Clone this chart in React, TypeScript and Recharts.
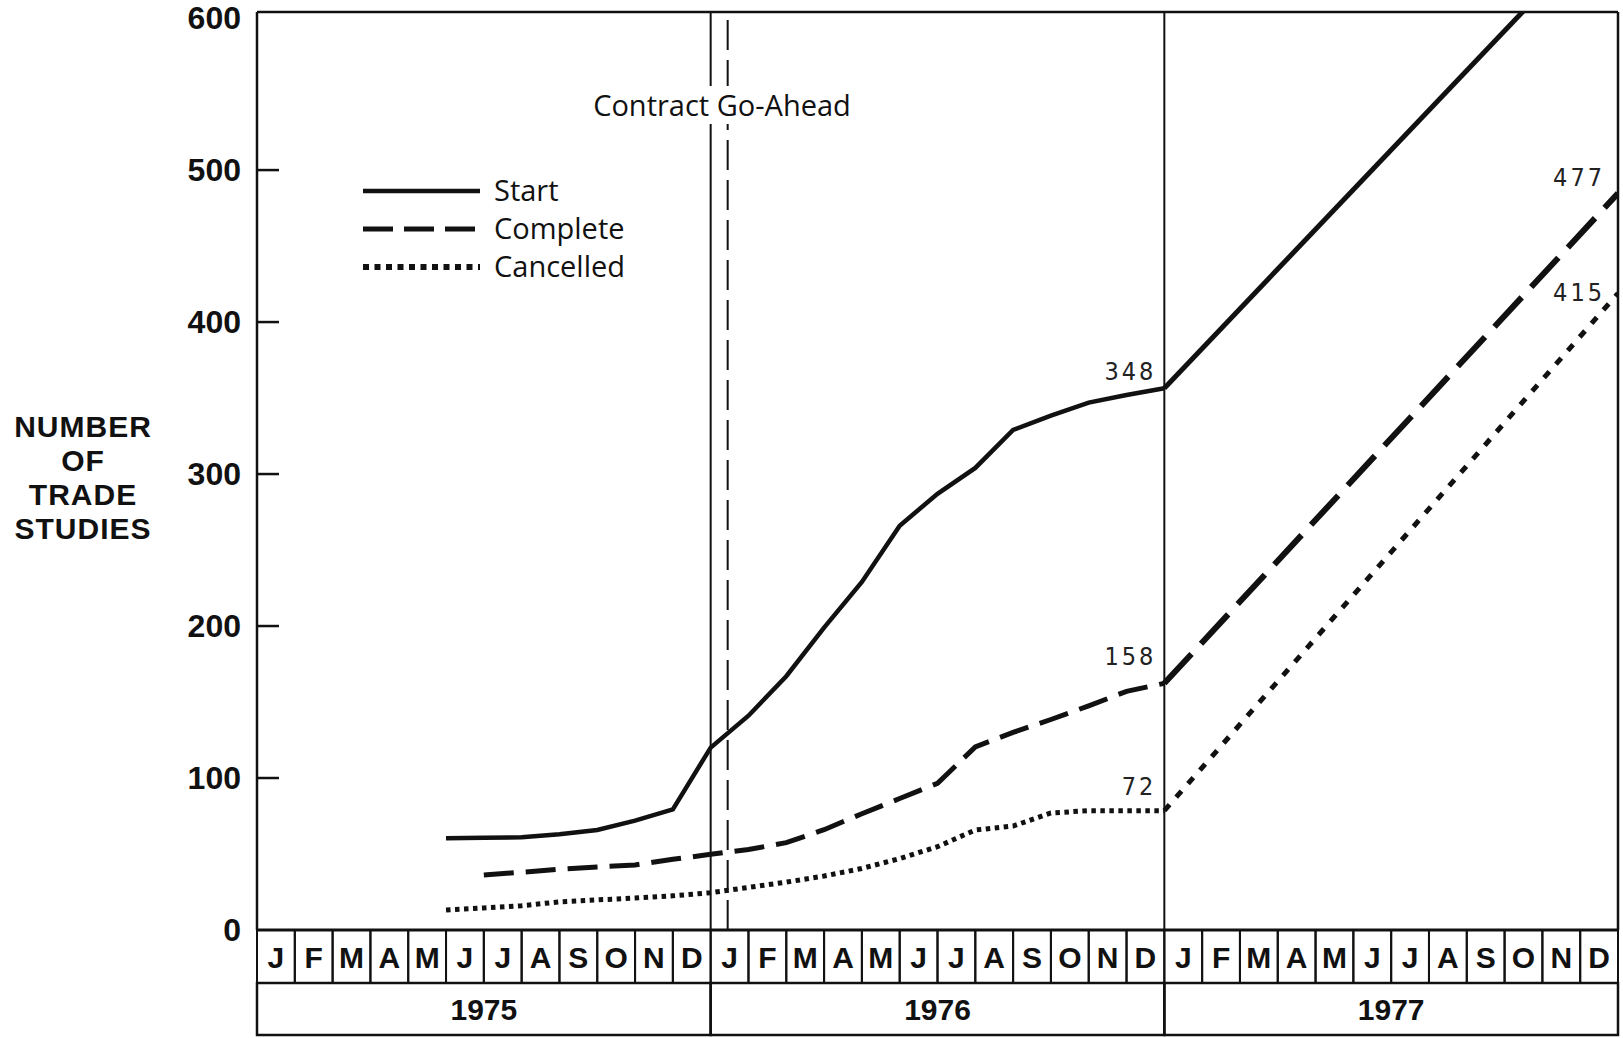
import { LineChart, Line, XAxis, YAxis, ReferenceLine, Legend } from "recharts";

// month index = months since 1 Jan 1975 (end of a month sits on its right cell edge)
const MONTH_LETTERS = ["J", "F", "M", "A", "M", "J", "J", "A", "S", "O", "N", "D"];
const YEARS = ["1975", "1976", "1977"];
const Y_TICKS = [0, 100, 200, 300, 400, 500, 600];
const MONTH_TICKS = Array.from({ length: 36 }, (_, i) => i + 0.5);
const YEAR_TICKS = [6, 18, 30];

const ACTUAL_MONTHS = [5, 6, 7, 8, 9, 10, 11, 12, 13, 14, 15, 16, 17, 18, 19, 20, 21, 22, 23, 24];
const START = [60.3, 60.7, 61, 63, 65.8, 72, 79.4, 120, 141, 167, 199, 229, 266, 287, 304, 329, 338.5, 347, 352, 356.5];
const COMPLETE = [null, 36.2, 38, 40, 41.5, 42.8, 46.5, 49.8, 53, 57.5, 66, 76.5, 86.5, 96.5, 120.5, 130, 138.5, 147.5, 157, 162.3];
const CANCELLED = [13.2, 14.5, 16, 18.5, 19.8, 21, 22.5, 24.5, 28, 31.5, 35.5, 40.5, 47, 54.8, 65.8, 68.4, 77, 78.5, 78.5, 78.5];

// 1977 projection
const PROJ_MONTHS = [24, 36];
const START_PROJ = [356.5, 670];
const COMPLETE_PROJ = [162.3, 484.7];
const CANCELLED_PROJ = [78.5, 418.9];

const GO_AHEAD_MONTH = 12.45;
const YEAR_BREAKS = [12, 24];

const LEGEND_ITEMS = [
  { label: "Start", dash: undefined, width: 4.5 },
  { label: "Complete", dash: "30 11", width: 5 },
  { label: "Cancelled", dash: "6 5.5", width: 6 },
];

const actualRows = ACTUAL_MONTHS.map((m, i) => ({
  m,
  start: START[i],
  complete: COMPLETE[i],
  cancelled: CANCELLED[i],
}));
const projRows = PROJ_MONTHS.map((m, i) => ({
  m,
  start: START_PROJ[i],
  complete: COMPLETE_PROJ[i],
  cancelled: CANCELLED_PROJ[i],
}));

const W = 1623;
const H = 1038;
const PLOT_LEFT = 257;
const PLOT_RIGHT = 1618;
const PLOT_TOP = 12;
const PLOT_BOTTOM = 930;
const MONTH_ROW_H = 53;
const YEAR_ROW_H = 52;
const MONTH_W = (PLOT_RIGHT - PLOT_LEFT) / 36;
const INK = "#111";
const BOLD_FONT = "'Liberation Sans', Arial, sans-serif";
const TEXT_FONT = "'Open Sans', 'DejaVu Sans', sans-serif";
const NUM_FONT = "'Liberation Sans Narrow', 'DejaVu Sans Condensed', sans-serif";

const MonthTick = ({ x, payload }: any) => (
  <g>
    <rect
      x={x - MONTH_W / 2}
      y={PLOT_BOTTOM}
      width={MONTH_W}
      height={MONTH_ROW_H}
      fill="none"
      stroke={INK}
      strokeWidth={2}
    />
    <text
      x={x}
      y={PLOT_BOTTOM + MONTH_ROW_H / 2 + 1}
      textAnchor="middle"
      dominantBaseline="central"
      fontFamily={BOLD_FONT}
      fontWeight="bold"
      fontSize={30}
      fill={INK}
    >
      {MONTH_LETTERS[Math.floor(payload.value) % 12]}
    </text>
  </g>
);

const YearTick = ({ x, payload, index }: any) => {
  const top = PLOT_BOTTOM + MONTH_ROW_H;
  return (
    <g>
      <rect
        x={x - 6 * MONTH_W}
        y={top}
        width={12 * MONTH_W}
        height={YEAR_ROW_H}
        fill="none"
        stroke={INK}
        strokeWidth={2.5}
      />
      <text
        x={x}
        y={top + YEAR_ROW_H / 2}
        textAnchor="middle"
        dominantBaseline="central"
        fontFamily={BOLD_FONT}
        fontWeight="bold"
        fontSize={30}
        fill={INK}
      >
        {YEARS[index ?? YEAR_TICKS.indexOf(payload.value)]}
      </text>
    </g>
  );
};

const YTick = ({ x, y, payload }: any) => (
  <g>
    {payload.value > 0 && payload.value < 600 && (
      <line x1={PLOT_LEFT} x2={PLOT_LEFT + 22} y1={y} y2={y} stroke={INK} strokeWidth={2.5} />
    )}
    <text
      x={x}
      y={y}
      textAnchor="end"
      dominantBaseline="central"
      fontFamily={BOLD_FONT}
      fontWeight="bold"
      fontSize={32}
      fill={INK}
    >
      {payload.value}
    </text>
  </g>
);

const YTitle = () => (
  <text
    textAnchor="middle"
    fontFamily={BOLD_FONT}
    fontWeight="bold"
    fontSize={30}
    fill={INK}
    letterSpacing={1}
  >
    {["NUMBER", "OF", "TRADE", "STUDIES"].map((t, i) => (
      <tspan key={t} x={83} y={437 + i * 34}>
        {t}
      </tspan>
    ))}
  </text>
);

const endLabel = (text: string, at: number, dx: number, dy: number) => (props: any) => {
  if (props.index !== at) return null;
  return (
    <text
      key={text}
      x={props.x + dx}
      y={props.y + dy}
      textAnchor="end"
      fontFamily={NUM_FONT}
      fontSize={25}
      letterSpacing={3}
      fill="#222"
    >
      {text}
    </text>
  );
};

const LegendBox = () => (
  <svg width={300} height={125}>
    {LEGEND_ITEMS.map((item, i) => {
      const y = 26 + i * 38;
      return (
        <g key={item.label}>
          <line
            x1={3}
            x2={120}
            y1={y}
            y2={y}
            stroke={INK}
            strokeWidth={item.width}
            strokeDasharray={item.dash}
          />
          <text x={134} y={y + 10} fontFamily={TEXT_FONT} fontSize={29} fill={INK}>
            {item.label}
          </text>
        </g>
      );
    })}
  </svg>
);

export default function App() {
  return (
    <div style={{ position: "absolute", left: 0, top: 0, width: W, height: H, background: "#fff" }}>
      <LineChart
        width={W}
        height={H}
        data={actualRows}
        margin={{ top: PLOT_TOP, right: W - PLOT_RIGHT, bottom: H - PLOT_BOTTOM - MONTH_ROW_H - YEAR_ROW_H, left: 0 }}
      >
        <XAxis
          dataKey="m"
          type="number"
          domain={[0, 36]}
          ticks={MONTH_TICKS}
          interval={0}
          height={MONTH_ROW_H}
          axisLine={{ stroke: INK, strokeWidth: 3 }}
          tickLine={false}
          tick={<MonthTick />}
          allowDataOverflow
        />
        <XAxis
          xAxisId="year"
          dataKey="m"
          type="number"
          domain={[0, 36]}
          ticks={YEAR_TICKS}
          interval={0}
          height={YEAR_ROW_H}
          axisLine={false}
          tickLine={false}
          tick={<YearTick />}
        />
        <YAxis
          type="number"
          domain={[0, 604]}
          ticks={Y_TICKS}
          interval={0}
          width={PLOT_LEFT}
          allowDataOverflow
          axisLine={{ stroke: INK, strokeWidth: 2.5 }}
          tickLine={false}
          tickSize={0}
          tickMargin={16}
          tick={<YTick />}
          label={<YTitle />}
        />
        <ReferenceLine y={604} stroke={INK} strokeWidth={2.5} />
        <ReferenceLine x={36} stroke={INK} strokeWidth={2.5} />
        {YEAR_BREAKS.map((m) => (
          <ReferenceLine key={m} x={m} stroke={INK} strokeWidth={2} />
        ))}
        <ReferenceLine x={GO_AHEAD_MONTH} stroke={INK} strokeWidth={2} strokeDasharray="30 10" />
        <Legend
          layout="vertical"
          align="center"
          verticalAlign="middle"
          wrapperStyle={{ left: 360, top: 165, width: 300, height: 125 }}
          content={<LegendBox />}
        />
        <Line
          dataKey="start"
          type="linear"
          stroke={INK}
          strokeWidth={4.5}
          dot={false}
          isAnimationActive={false}
          label={endLabel("348", ACTUAL_MONTHS.length - 1, -8, -8)}
        />
        <Line
          dataKey="complete"
          type="linear"
          stroke={INK}
          strokeWidth={5}
          strokeDasharray="30 12"
          dot={false}
          isAnimationActive={false}
          label={endLabel("158", ACTUAL_MONTHS.length - 1, -8, -18)}
        />
        <Line
          dataKey="cancelled"
          type="linear"
          stroke={INK}
          strokeWidth={5}
          strokeDasharray="4.5 4.5"
          dot={false}
          isAnimationActive={false}
          label={endLabel("72", ACTUAL_MONTHS.length - 1, -8, -16)}
        />
        <Line
          data={projRows}
          dataKey="start"
          type="linear"
          stroke={INK}
          strokeWidth={5}
          dot={false}
          legendType="none"
          isAnimationActive={false}
        />
        <Line
          data={projRows}
          dataKey="complete"
          type="linear"
          stroke={INK}
          strokeWidth={6}
          strokeDasharray="40 14"
          dot={false}
          legendType="none"
          isAnimationActive={false}
          label={endLabel("477", 1, -13, -7)}
        />
        <Line
          data={projRows}
          dataKey="cancelled"
          type="linear"
          stroke={INK}
          strokeWidth={5}
          strokeDasharray="8 10"
          dot={false}
          legendType="none"
          isAnimationActive={false}
          label={endLabel("415", 1, -13, 8)}
        />
      </LineChart>
      <div
        style={{
          position: "absolute",
          left: 582,
          top: 86,
          width: 280,
          height: 38,
          lineHeight: "38px",
          textAlign: "center",
          background: "#fff",
          fontFamily: TEXT_FONT,
          fontSize: 29,
          color: INK,
          whiteSpace: "nowrap",
          pointerEvents: "none",
        }}
      >
        Contract Go-Ahead
      </div>
    </div>
  );
}
